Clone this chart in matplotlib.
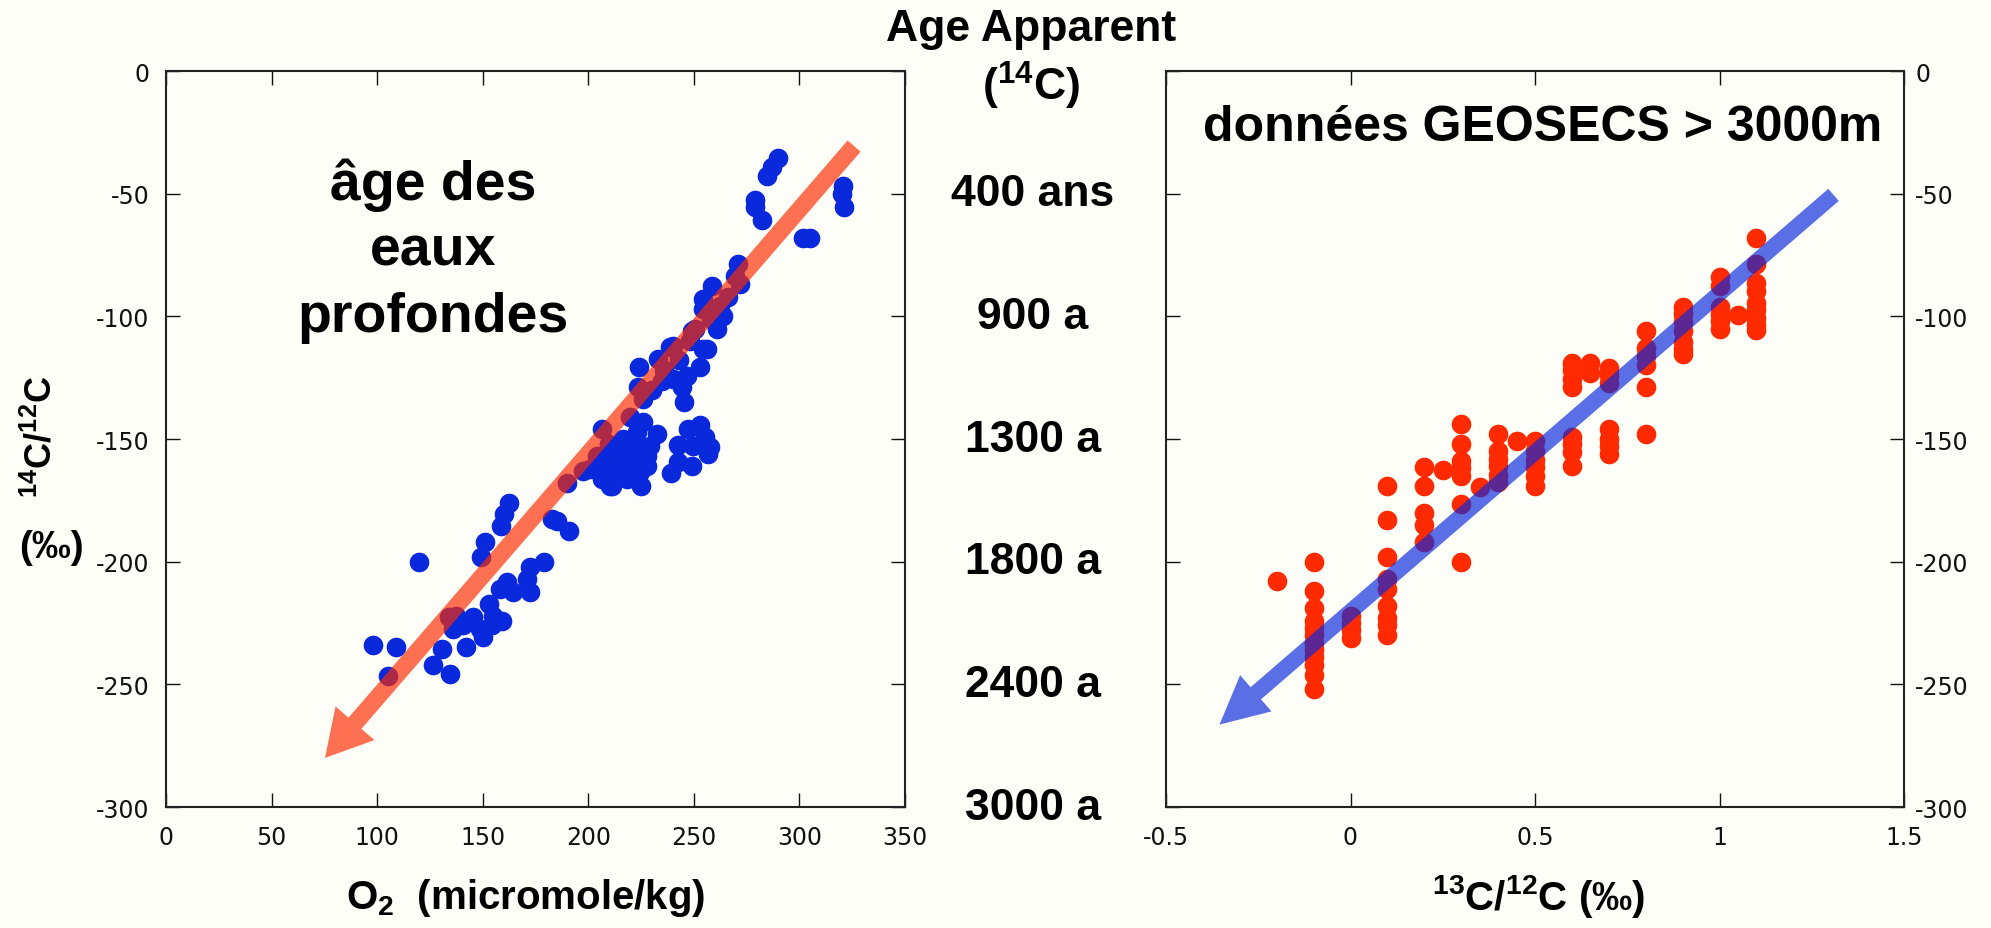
import numpy as np
import matplotlib
matplotlib.use("Agg")
import matplotlib.pyplot as plt
from matplotlib.patches import FancyArrowPatch
from matplotlib.transforms import blended_transform_factory

plt.rcParams['font.family'] = ['Liberation Sans', 'DejaVu Sans']
plt.rcParams['axes.unicode_minus'] = False
plt.rcParams['mathtext.fontset'] = 'custom'
plt.rcParams['mathtext.rm'] = 'Liberation Sans:bold'
plt.rcParams['mathtext.it'] = 'Liberation Sans:bold'
plt.rcParams['mathtext.bf'] = 'Liberation Sans:bold'

########################## DATA ##########################
# left panel : O2 vs 14C/12C
o2 = [98, 109, 105, 120, 126.5, 134.5, 130.5, 142,
      134, 137.5, 136, 140.8, 145.5, 148.8, 150.3, 154.2, 155, 159, 153, 158.2, 161.3, 164.5,
      170.8, 172.4, 172.4, 179, 149.2, 151, 158.8, 160, 162.6, 182.7, 185, 191,
      190, 197.6, 200.8, 203.9, 206.4, 206.4, 208.7, 210.3, 211.1, 213.4, 216.6, 216.6, 218.2,
      219.7, 219.7, 222.9, 224.5, 224.8, 226.1, 227.6, 229.2, 232.4, 212, 215, 221, 223, 228, 218, 210,
      239.2, 242.6, 242.3, 247.4, 249.7, 249, 252.9, 255.3, 257.6, 256.8,
      223.7, 226.1, 224, 233.2, 234.8, 238.7, 240.3, 240.3, 244.2, 245.3, 246.6, 249, 250.5,
      252.9, 254.5, 256.1, 254.5, 254.2, 258.4, 260.8, 262.4, 264, 269.5, 271, 271.9,
      230, 236, 243, 248, 258, 266,
      279, 279, 282.1, 284.8, 286.8, 290, 301.8, 305, 320.5, 320, 321.1]
c14_o2 = [-234, -234.6, -246.5, -200, -242, -245.7, -235.5, -234.8,
          -222.7, -222, -227.4, -226, -222.7, -227.4, -230.8, -226, -222, -224, -217.3, -211, -208.4, -212.5,
          -207, -212.5, -202, -200, -198, -191.8, -185.6, -180.6, -176.2, -182.6, -183.3, -187.4,
          -168, -162.9, -162.2, -156.8, -145.9, -166.3, -160.9, -169, -169, -155.4, -150, -162.2, -166.3,
          -158.1, -141.2, -152.7, -163.6, -169.3, -143.2, -160.9, -152.7, -148, -158, -165, -156, -147, -157, -153, -152,
          -163.9, -159.5, -152.3, -145.9, -152.7, -160.9, -144.3, -149.3, -153.4, -156.1,
          -128.9, -133.7, -120.5, -117.4, -126.2, -112.6, -125.5, -112, -128.9, -135, -124.2, -105.8, -105.2,
          -120.8, -113.3, -113.3, -97, -92.9, -87.8, -105.2, -95.7, -99.7, -83.4, -78.7, -86.8,
          -130, -122, -118, -110, -101, -92,
          -52.6, -55.6, -60.6, -42.9, -39.3, -35.6, -68.2, -68.2, -47, -50.1, -55.6]

# right panel : 13C/12C vs 14C/12C (GEOSECS > 3000 m), one list per d13C column
c13_cols = [-0.2, -0.1, 0.0, 0.1, 0.2, 0.25, 0.3, 0.35, 0.4, 0.45, 0.5,
            0.6, 0.65, 0.7, 0.8, 0.9, 1.0, 1.05, 1.1]
c14_cols = [[-208],
            [-200, -212, -219, -224, -227, -230, -233, -236, -239, -242, -246, -252],
            [-222, -225, -228, -231],
            [-169, -183, -198, -207, -211, -218, -223, -226, -230],
            [-161.5, -169, -180, -185, -192],
            [-162.5],
            [-144, -152, -159, -162, -165, -176.5, -200],
            [-169.5],
            [-148, -155, -158, -161, -164.5, -167.7],
            [-150.7],
            [-151, -155, -158.5, -161.5, -165, -169],
            [-119, -122, -125.5, -129, -149, -152, -155.5, -161],
            [-119, -123],
            [-121, -124, -127, -146, -150, -153, -156],
            [-106, -113, -116, -120, -129, -148],
            [-96, -99, -102.5, -106, -110.5, -113.4, -115.3],
            [-84, -87.5, -96, -99, -102, -105],
            [-99.5],
            [-68, -78.5, -86.5, -89.8, -94.5, -97.5, -100.5, -103.5, -105.7]]

# arrows (tail -> head) in data units
arrow_left = [(325.9, -30.6), (75.3, -280.0)]
arrow_right = [(1.309, -50.5), (-0.355, -266.4)]

age_levels = [-50, -100, -150, -200, -250, -300]
age_labels = ['400 ans', '900 a', '1300 a', '1800 a', '2400 a', '3000 a']

y_ticks = [0, -50, -100, -150, -200, -250, -300]
x1_ticks = [0, 50, 100, 150, 200, 250, 300, 350]
x2_ticks = [-0.5, 0, 0.5, 1, 1.5]
x2_labels = ['-0.5', '0', '0.5', '1', '1.5']

c13 = []
c14_c13 = []
for xv, col in zip(c13_cols, c14_cols):
    c13 += [xv] * len(col)
    c14_c13 += col

########################## PLOT ##########################
bg = '#fefef8'
blue = '#0a28dc'
red = '#ff2a00'
W, H = 1991, 929
tick_font = dict(family='DejaVu Sans', size=17)

fig = plt.figure(figsize=(W / 100, H / 100), dpi=100, facecolor=bg)
ax1 = fig.add_axes([166 / W, 1 - 808 / H, 739 / W, 736 / H], facecolor=bg)
ax2 = fig.add_axes([1166 / W, 1 - 808 / H, 738 / W, 736 / H], facecolor=bg)

ax1.scatter(o2, c14_o2, s=200, color=blue, linewidths=0, zorder=2)
ax2.scatter(c13, c14_c13, s=200, color=red, linewidths=0, zorder=2)


def big_arrow(ax, pts, color, tail_w, head_w, head_l):
    st = 'simple,head_length=%g,head_width=%g,tail_width=%g' % (head_l, head_w, tail_w)
    a = FancyArrowPatch(pts[0], pts[1], arrowstyle=st, mutation_scale=1,
                        color=color, alpha=0.67, linewidth=0,
                        shrinkA=0, shrinkB=0, zorder=3)
    ax.add_patch(a)


big_arrow(ax1, arrow_left, red, 12.3, 37, 33)
big_arrow(ax2, arrow_right, blue, 11.5, 34.5, 34.5)

for ax in (ax1, ax2):
    ax.set_ylim(-300, 0)
    ax.set_yticks(y_ticks)
    ax.set_yticklabels([str(v) for v in y_ticks], fontdict=tick_font)
    ax.tick_params(direction='in', length=10, width=1, top=True, right=True, colors='#111')
    for s in ax.spines.values():
        s.set_linewidth(1.5)
        s.set_color('#222')

ax1.set_xlim(0, 350)
ax1.set_xticks(x1_ticks)
ax1.set_xticklabels([str(v) for v in x1_ticks], fontdict=tick_font)
ax1.tick_params(axis='y', pad=12)
ax1.tick_params(axis='x', pad=13)

ax2.set_xlim(-0.5, 1.5)
ax2.set_xticks(x2_ticks)
ax2.set_xticklabels(x2_labels, fontdict=tick_font)
ax2.tick_params(axis='y', labelleft=False, labelright=True, pad=8)
ax2.tick_params(axis='x', pad=13)

# texts inside panels
ax1.text(126.5, -52.0, 'âge des', ha='center', va='baseline', fontsize=40, fontweight='bold')
ax1.text(126.5, -79.0, 'eaux', ha='center', va='baseline', fontsize=40, fontweight='bold')
ax1.text(126.5, -106.0, 'profondes', ha='center', va='baseline', fontsize=40, fontweight='bold')
ax2.text(0.522, -28, 'données GEOSECS > 3000m', ha='center', va='baseline',
         fontsize=36, fontweight='bold')

# middle column : apparent ages
fig.text(1031 / W, 1 - 41 / H, 'Age Apparent', ha='center', va='baseline',
         fontsize=32, fontweight='bold')
fig.text(1031 / W, 1 - 86 / H, r'(${}^{14}$C)', ha='center', va='center',
         fontsize=32, fontweight='bold')
tr = blended_transform_factory(fig.transFigure, ax1.transData)
for lev, lab in zip(age_levels, age_labels):
    fig.text(1033 / W, lev, lab, transform=tr, ha='center', va='center',
             fontsize=32, fontweight='bold')

# axis labels
fig.text(41 / W, 1 - 437 / H, r'${}^{14}$C/${}^{12}$C', rotation=90, ha='center', va='center',
         fontsize=26, fontweight='bold')
fig.text(51 / W, 1 - 548 / H, '(‰)', ha='center', va='center', fontsize=28, fontweight='bold')
fig.text(526 / W, 1 - 909 / H, r'O$_2$  (micromole/kg)', ha='center', va='baseline',
         fontsize=29, fontweight='bold')
fig.text(1539 / W, 1 - 910 / H, r'${}^{13}$C/${}^{12}$C (‰)', ha='center', va='baseline',
         fontsize=29, fontweight='bold')

fig.savefig('out.png', dpi=100, facecolor=bg)
